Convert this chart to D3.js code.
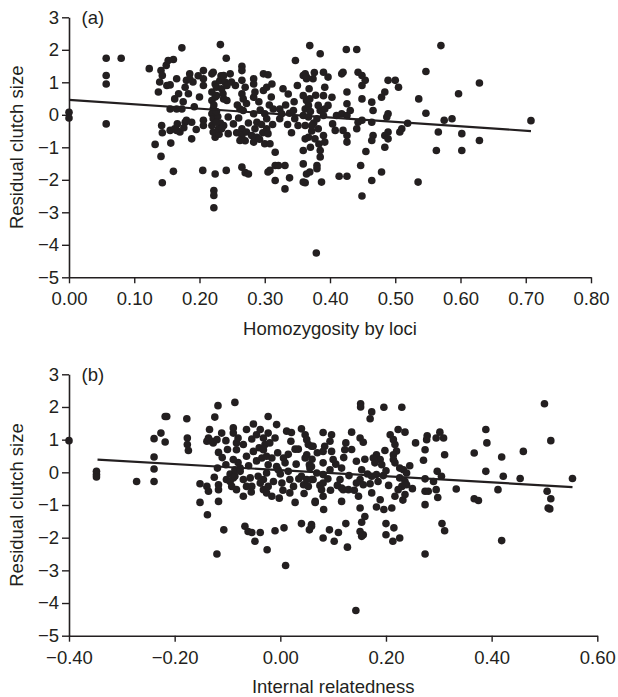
<!DOCTYPE html>
<html>
<head>
<meta charset="utf-8">
<script src="https://cdn.jsdelivr.net/npm/d3@7"></script>
<style>
  body { margin: 0; background: #fff; }
  svg text { font-family: "Liberation Sans", Arial, Helvetica, sans-serif; fill: #231f20; }
</style>
</head>
<body>
<svg id="chart" width="618" height="697"></svg>
<script>
// panel (a): homozygosity by loci vs residual clutch size
var pointsA = [
  [0,0.08],[0,-0.10],
  [0.057,1.74],[0.057,1.21],[0.057,0.95],[0.057,-0.28],[0.080,1.74],
  [0.123,1.42],[0.132,-0.91],[0.141,1.36],[0.143,1.21],[0.139,1.01],[0.137,0.70],[0.141,-1.28],[0.143,-2.09],[0.142,-0.33],[0.143,-0.55],
  [0.149,1.52],[0.152,1.67],[0.160,1.70],[0.150,0.90],[0.155,0.92],[0.155,0.18],[0.156,-0.87],[0.160,-1.74],[0.155,-0.48],[0.162,-0.43],
  [0.165,1.11],[0.162,0.49],[0.168,0.65],[0.165,0.18],[0.173,0.18],[0.166,-0.28],[0.170,-0.53],[0.165,-0.48],[0.173,2.06],
  [0.178,-0.23],[0.180,-0.17],[0.188,-0.23],[0.188,-0.74],[0.180,1.06],[0.185,1.26],[0.185,1.11],[0.183,0.65],[0.190,1.01],
  [0.175,0.40],[0.178,0.85],[0.192,0.25],[0.195,-0.45],[0.200,0.55],[0.198,1.20],[0.176,-0.40],
  [0.205,-1.71],[0.206,1.36],[0.206,1.11],[0.206,0.90],[0.206,-0.17],[0.206,-0.33],
  [0.219,1.26],[0.221,1.31],[0.224,0.95],[0.219,0.70],[0.219,0.44],[0.221,0.18],[0.219,0.03],[0.221,-0.12],[0.219,-0.33],[0.221,-0.53],[0.224,-0.69],
  [0.222,0.30],[0.224,0.55],[0.226,0.85],[0.231,1.05],[0.233,1.20],[0.228,-0.05],[0.230,-0.60],[0.232,-0.25],[0.226,0.10],[0.236,0.65],
  [0.224,-1.82],[0.222,-2.33],[0.222,-2.48],[0.222,-2.86],
  [0.226,0.59],[0.226,-0.23],[0.229,-0.43],
  [0.237,1.21],[0.239,1.01],[0.234,0.80],[0.242,0.90],[0.237,0.49],[0.242,0.44],[0.244,-0.07],[0.237,-0.33],[0.234,-0.43],[0.244,-0.58],
  [0.232,2.16],[0.241,1.74],[0.241,-1.71],
  [0.247,1.26],[0.249,1.01],[0.252,-0.28],
  [0.255,0.90],[0.258,0.30],[0.260,-0.10],[0.257,-0.55],[0.270,0.85],[0.272,0.35],[0.275,-0.25],[0.270,-0.80],
  [0.265,1.49],[0.265,1.36],[0.265,1.06],[0.265,0.65],[0.267,0.49],[0.262,0.18],[0.267,0.13],[0.265,-0.43],[0.265,-0.64],[0.262,-0.79],[0.272,-0.53],
  [0.265,-1.61],[0.270,-1.78],[0.275,-1.82],
  [0.283,1.11],[0.283,0.95],[0.283,0.54],[0.285,0.70],[0.283,0.03],[0.288,-0.23],[0.285,-0.43],[0.280,-0.64],[0.288,-0.69],[0.283,-0.84],
  [0.291,0.40],[0.293,0.15],[0.295,-0.30],[0.297,-0.55],[0.310,0.55],[0.312,-0.30],[0.307,0.30],[0.292,-0.75],
  [0.298,1.26],[0.305,1.23],[0.298,0.75],[0.303,0.85],[0.311,0.95],[0.300,0.03],[0.303,-0.12],[0.303,-0.43],[0.305,-0.58],[0.300,-0.89],[0.308,-0.89],
  [0.308,-1.71],[0.305,-1.76],[0.316,-1.15],[0.316,-1.56],[0.321,-1.56],[0.316,-2.02],
  [0.313,0.18],[0.323,0.18],[0.323,-0.12],[0.326,0.03],
  [0.328,0.80],[0.336,0.64],[0.331,-1.56],[0.338,-1.94],[0.331,-2.28],
  [0.332,0.30],[0.335,-0.30],[0.338,0.05],[0.341,-0.55],[0.345,0.40],[0.350,0.90],
  [0.347,1.67],[0.344,0.13],[0.346,-0.12],[0.351,-0.33],
  [0.359,1.21],[0.362,1.26],[0.364,1.11],[0.359,0.59],[0.364,0.44],[0.362,0.18],[0.359,-0.02],[0.362,-0.33],[0.362,-0.74],[0.359,-1.10],[0.359,-1.51],[0.364,-1.82],[0.362,-2.09],
  [0.370,0.10],[0.375,-0.25],[0.368,0.80],[0.372,-0.50],[0.378,0.60],[0.383,-0.90],[0.376,1.30],[0.370,-1.00],
  [0.369,2.13],[0.385,1.88],[0.425,2.01],[0.441,2.01],[0.570,2.13],
  [0.364,1.16],[0.374,1.11],[0.367,0.29],[0.369,0.49],[0.367,-0.07],[0.372,-0.33],[0.380,-0.12],[0.382,-0.43],[0.377,-0.74],[0.367,-0.69],
  [0.385,0.13],[0.382,0.29],[0.392,0.18],[0.390,-0.02],
  [0.390,1.31],[0.397,1.16],[0.392,0.85],[0.390,0.59],[0.403,0.54],[0.397,0.29],[0.390,-0.64],[0.392,-0.84],[0.385,-1.10],[0.385,-1.30],
  [0.380,-1.56],[0.380,-1.66],[0.369,-1.76],[0.359,-2.07],[0.387,-2.07],
  [0.379,-4.25],
  [0.404,-0.28],[0.408,-0.48],
  [0.410,-0.02],[0.418,0.03],[0.426,-0.02],[0.431,0.13],[0.426,0.34],[0.426,0.70],[0.420,1.31],[0.418,1.26],
  [0.420,-0.48],[0.426,-0.64],[0.426,-0.84],
  [0.414,-1.89],[0.426,-1.89],
  [0.443,1.31],[0.449,1.21],[0.454,1.06],[0.449,0.90],
  [0.443,-0.23],[0.441,-0.43],[0.449,-0.17],[0.449,0.49],
  [0.455,-1.13],[0.447,-1.56],[0.449,-2.50],
  [0.464,0.39],[0.466,0.13],[0.464,-0.23],[0.466,-0.64],[0.464,-0.79],
  [0.464,-2.02],[0.479,-1.76],
  [0.489,1.06],[0.500,1.06],[0.505,0.85],[0.484,0.70],[0.479,0.54],[0.489,0.03],[0.487,-0.07],
  [0.489,-0.53],[0.484,-0.64],[0.489,-0.74],[0.484,-1.00],
  [0.507,-0.53],[0.510,-0.43],[0.519,-0.26],[0.536,0.49],[0.535,-2.07],[0.547,1.33],[0.547,0.05],
  [0.566,-0.53],[0.563,-1.10],[0.575,-0.17],[0.587,-0.12],[0.597,0.65],[0.602,-0.58],[0.602,-1.10],
  [0.629,0.98],[0.629,-0.79],[0.708,-0.18]
];
var fitA = [[0, 0.46], [0.708, -0.50]];

// panel (b): internal relatedness vs residual clutch size
var pointsB = [
  [-0.400,0.97],
  [-0.348,0.03],[-0.348,-0.07],[-0.348,-0.14],
  [-0.272,-0.28],
  [-0.239,0.47],[-0.239,0.10],[-0.239,-0.28],[-0.239,1.03],
  [-0.226,1.20],[-0.218,1.71],[-0.215,1.71],[-0.218,0.93],
  [-0.177,1.64],[-0.176,1.05],[-0.176,0.85],[-0.174,0.67],
  [-0.152,-0.35],[-0.139,-0.43],[-0.136,-0.58],[-0.152,-0.92],[-0.138,-1.30],
  [-0.134,1.31],[-0.136,1.05],[-0.139,0.95],[-0.130,0.95],[-0.127,0.90],[-0.120,1.00],[-0.111,1.20],
  [-0.117,0.61],[-0.118,2.04],[-0.124,1.69],[-0.119,0.13],[-0.117,-0.38],[-0.117,-0.53],[-0.117,-0.89],[-0.107,-1.76],[-0.120,-2.50],
  [-0.125,-0.15],[-0.110,0.45],[-0.100,0.70],[-0.095,-0.05],[-0.080,0.30],[-0.070,0.85],[-0.060,0.20],[-0.055,-0.60],[-0.045,0.35],[-0.040,0.75],
  [-0.103,0.97],[-0.103,0.23],
  [-0.102,-0.22],[-0.095,-0.28],[-0.092,-0.43],[-0.089,-0.17],[-0.086,-0.12],
  [-0.089,1.36],[-0.089,1.20],[-0.086,2.14],[-0.083,0.90],[-0.080,1.05],[-0.083,0.69],[-0.089,0.39],[-0.086,0.08],[-0.076,0.13],[-0.076,0.03],
  [-0.083,-0.53],[-0.070,-0.73],[-0.070,-0.22],[-0.064,-0.43],[-0.057,-0.17],[-0.054,-0.43],
  [-0.067,-1.65],[-0.061,-1.81],[-0.054,-1.84],[-0.048,-2.11],[-0.038,-1.84],
  [-0.064,1.31],[-0.064,0.49],[-0.054,1.02],[-0.051,1.48],[-0.051,0.64],[-0.045,1.15],[-0.038,1.31],[-0.032,1.05],[-0.032,0.69],[-0.035,0.44],
  [-0.029,0.85],[-0.023,1.71],[-0.023,1.20],[-0.026,0.49],[-0.020,0.90],[-0.016,0.44],[-0.023,0.23],[-0.026,-0.02],[-0.032,-0.22],
  [-0.042,-0.12],[-0.038,-0.33],[-0.032,-0.53],[-0.026,-0.63],[-0.016,-0.73],[-0.023,-0.43],[-0.013,-0.28],[-0.007,0.18],[-0.004,0.08],
  [-0.010,1.05],[-0.005,0.60],[0.000,-0.05],[0.005,-0.55],[0.015,0.55],[0.020,0.95],[0.030,0.25],[0.035,-0.20],[0.045,-0.65],
  [-0.007,1.46],[-0.010,-1.79],[-0.025,-2.37],
  [-0.002,-0.79],[0.007,-1.70],[0.010,-2.85],
  [0.012,1.26],[0.021,1.22],[0.028,0.71],[0.034,0.71],[0.018,-0.22],[0.025,-0.43],[0.018,-0.63],[0.028,-0.92],
  [0.006,0.44],[0.009,0.29],[0.015,0.03],[0.003,-0.33],
  [0.040,1.33],[0.047,1.15],[0.050,1.00],[0.053,0.85],[0.050,0.54],[0.047,0.44],[0.055,0.23],[0.056,0.13],
  [0.040,-0.12],[0.044,-0.38],[0.050,-0.22],[0.053,-0.43],[0.062,-0.22],[0.066,-0.89],
  [0.040,-1.57],[0.055,-1.76],[0.059,-1.60],
  [0.062,0.80],[0.069,-0.02],
  [0.060,0.40],[0.070,0.60],[0.075,-0.40],[0.090,-0.20],[0.095,-0.55],[0.105,0.25],[0.108,-0.40],[0.120,0.45],[0.130,-0.10],[0.135,0.70],
  [0.140,-0.55],[0.160,0.40],[0.165,-0.05],[0.170,-0.35],[0.195,-0.10],[0.200,0.05],[0.205,-0.40],[0.220,0.65],[0.232,-0.85],[0.245,0.20],[0.250,-0.50],
  [0.152,2.10],[0.152,2.00],[0.173,1.85],[0.170,1.64],[0.196,1.99],[0.230,1.99],[0.500,2.10],[0.512,0.97],[0.460,0.64],[0.419,0.47],
  [0.389,1.31],[0.391,0.90],[0.367,0.59],[0.389,0.03],[0.422,-0.12],[0.454,-0.19],[0.553,-0.19],
  [0.505,-0.58],[0.512,-0.81],[0.507,-1.09],[0.510,-1.12],[0.412,-0.53],[0.419,-2.09],[0.333,-0.51],[0.367,-0.81],[0.375,-0.86],
  [0.274,-2.50],[0.274,-0.99],[0.274,-0.58],[0.280,-0.58],[0.295,-0.53],[0.298,-0.77],[0.306,-1.57],[0.311,-1.79],
  [0.274,-0.20],[0.290,-0.28],[0.297,0.03],[0.305,-0.12],
  [0.256,0.90],[0.278,1.12],[0.277,1.00],[0.274,0.69],[0.271,0.37],
  [0.295,1.05],[0.302,1.23],[0.309,1.05],[0.311,0.54],
  [0.223,1.31],[0.236,1.23],[0.208,1.15],[0.214,1.00],[0.217,0.85],
  [0.198,0.67],[0.214,0.54],[0.214,0.39],[0.217,0.29],
  [0.226,0.13],[0.233,0.08],[0.239,-0.02],[0.226,-0.17],[0.236,-0.28],[0.239,-0.38],[0.230,-0.43],[0.236,-0.68],[0.223,-0.53],[0.217,-0.73],
  [0.211,-1.09],[0.196,-1.14],
  [0.200,-1.57],[0.215,-1.70],[0.200,-1.91],[0.213,-2.11],[0.226,-2.01],
  [0.182,0.54],[0.189,0.39],[0.176,0.44],[0.192,0.23],[0.179,0.29],[0.182,-0.07],[0.173,-0.12],[0.185,-0.28],[0.173,-0.63],[0.189,-0.84],[0.182,-1.06],
  [0.144,0.34],[0.154,0.08],[0.151,-0.22],[0.144,-0.33],[0.157,-0.38],[0.148,-0.73],[0.151,-1.09],[0.160,-1.35],[0.154,-1.53],[0.151,-1.81],[0.157,-1.91],[0.154,-1.96],
  [0.143,-4.23],
  [0.135,1.23],[0.151,1.05],[0.157,0.92],
  [0.124,0.90],[0.122,0.69],[0.116,0.13],[0.113,-0.22],[0.116,-0.48],[0.119,-0.53],[0.129,-0.53],[0.116,-0.89],[0.124,-1.57],[0.127,-2.29],
  [0.102,-2.11],[0.093,-1.76],[0.081,-2.01],[0.110,-1.84],
  [0.081,1.22],[0.097,1.15],[0.094,0.95],[0.084,0.80],[0.081,0.64],[0.097,0.64],[0.100,0.39],[0.081,0.29],[0.094,0.08],[0.081,-0.07],
  [0.081,-0.33],[0.078,-0.53],[0.081,-0.73],[0.066,-0.92],[0.082,-1.14],[0.059,-1.65],[0.059,0.80],[0.059,0.18],[0.059,-0.22]
];
var fitB = [[-0.346, 0.39], [0.553, -0.45]];

var yTicks = [3, 2, 1, 0, -1, -2, -3, -4, -5];
var xTicksA = [0, 0.1, 0.2, 0.3, 0.4, 0.5, 0.6, 0.7, 0.8];
var xTicksB = [-0.4, -0.2, 0, 0.2, 0.4, 0.6];

var ink = '#231f20';
var svg = d3.select('#chart');

function drawPanel(opts) {
    var x = d3.scaleLinear().domain(opts.xDomain).range(opts.xRange),
        y = d3.scaleLinear().domain([-5, 3]).range(opts.yRange);

    var g = svg.append('g');

    // axes
    var yAxis = d3.axisLeft(y)
        .tickValues(yTicks)
        .tickSize(7)
        .tickSizeOuter(0)
        .tickPadding(3)
        .tickFormat(d3.format('d'));
    var xAxis = d3.axisBottom(x)
        .tickValues(opts.xTicks)
        .tickSize(6)
        .tickSizeOuter(0)
        .tickPadding(9)
        .tickFormat(d3.format('.2f'));

    var ya = g.append('g')
        .attr('transform', 'translate(' + opts.xRange[0] + ',0)')
        .call(yAxis);
    var xa = g.append('g')
        .attr('transform', 'translate(0,' + opts.yRange[0] + ')')
        .call(xAxis);

    [ya, xa].forEach(a => {
        a.select('.domain').attr('stroke', ink).attr('stroke-width', 1.6);
        a.selectAll('.tick line').attr('stroke', ink).attr('stroke-width', 1.4);
        a.selectAll('.tick text')
            .attr('fill', ink)
            .style('font-size', '18.5px');
    });

    // points
    g.append('g').selectAll('circle')
        .data(opts.points)
        .enter().append('circle')
        .attr('cx', d => x(d[0]))
        .attr('cy', d => y(d[1]))
        .attr('r', 3.8)
        .attr('fill', ink);

    // regression line
    g.append('line')
        .attr('x1', x(opts.fit[0][0])).attr('y1', y(opts.fit[0][1]))
        .attr('x2', x(opts.fit[1][0])).attr('y2', y(opts.fit[1][1]))
        .attr('stroke', ink)
        .attr('stroke-width', 2.2);

    // labels
    g.append('text')
        .attr('x', opts.xRange[0] + 12.5)
        .attr('y', opts.yRange[1] + 7)
        .style('font-size', '18.5px')
        .text(opts.tag);

    g.append('text')
        .attr('text-anchor', 'middle')
        .attr('x', (opts.xRange[0] + opts.xRange[1]) / 2)
        .attr('y', opts.yRange[0] + 57.5)
        .style('font-size', '18.5px')
        .text(opts.xTitle);

    g.append('text')
        .attr('text-anchor', 'middle')
        .attr('transform', 'translate(22.5,' + (opts.yRange[0] + opts.yRange[1]) / 2 + ') rotate(-90)')
        .style('font-size', '18.5px')
        .text('Residual clutch size');
}

drawPanel({
    points: pointsA, fit: fitA, tag: '(a)',
    xDomain: [0, 0.8], xRange: [69, 591], yRange: [277.3, 17.3],
    xTicks: xTicksA, xTitle: 'Homozygosity by loci'
});
drawPanel({
    points: pointsB, fit: fitB, tag: '(b)',
    xDomain: [-0.4, 0.6], xRange: [69, 597.3], yRange: [635.7, 374.3],
    xTicks: xTicksB, xTitle: 'Internal relatedness'
});
</script>
</body>
</html>
